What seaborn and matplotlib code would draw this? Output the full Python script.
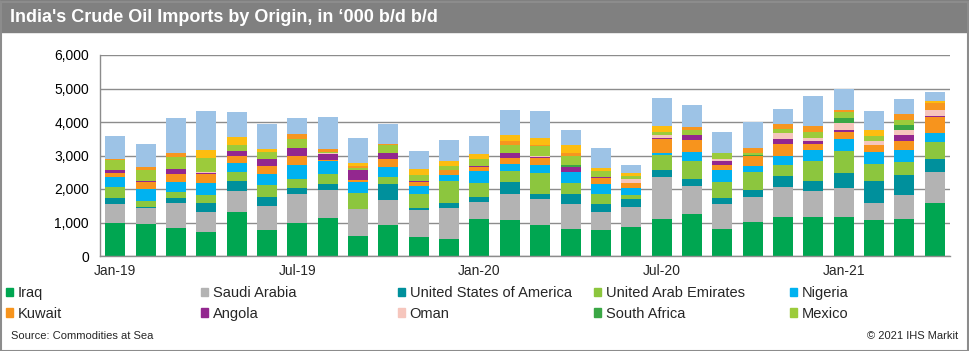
import numpy as np
import pandas as pd
import seaborn as sns
import matplotlib.pyplot as plt
from matplotlib.patches import Rectangle
from matplotlib.ticker import FuncFormatter, FixedLocator

# monthly imports, '000 b/d, Jan-19 .. Apr-21
months = list(pd.date_range('2019-01-01', periods=28, freq='MS').strftime('%b-%y'))

iraq = [985, 945, 845, 725, 1310, 775, 985, 1120, 595, 925, 575, 495, 1090, 1060,
        925, 795, 765, 875, 1090, 1240, 795, 1015, 1170, 1160, 1160, 1070, 1110, 1570]
saudi = [555, 495, 725, 595, 625, 715, 880, 865, 795, 745, 795, 945, 530, 805,
         765, 765, 545, 585, 1265, 845, 765, 755, 895, 795, 875, 520, 705, 930]
usa = [200, 20, 150, 270, 310, 270, 170, 150, 10, 465, 70, 130, 140, 350,
       150, 280, 250, 230, 225, 200, 160, 215, 320, 280, 445, 645, 600, 410]
uae = [315, 180, 185, 220, 265, 345, 250, 300, 495, 230, 425, 665, 405, 335,
       625, 345, 280, 130, 430, 545, 495, 515, 345, 595, 650, 515, 395, 495]
nigeria = [310, 365, 310, 375, 270, 355, 445, 395, 300, 295, 220, 195, 365, 200,
           265, 315, 295, 195, 70, 280, 365, 200, 250, 320, 365, 350, 340, 270]
kuwait = [115, 210, 240, 250, 200, 240, 270, 50, 80, 250, 130, 130, 130, 180,
          200, 0, 200, 150, 425, 365, 130, 280, 365, 205, 200, 205, 275, 465]
angola = [80, 30, 155, 45, 140, 210, 225, 150, 285, 150, 20, 20, 20, 130,
          20, 150, 30, 0, 30, 150, 120, 0, 150, 90, 80, 0, 180, 50]
oman = [0, 0, 0, 30, 0, 0, 0, 50, 0, 0, 0, 0, 0, 0,
        30, 0, 0, 120, 90, 0, 80, 0, 180, 80, 195, 120, 150, 180]
south_africa = [0, 0, 0, 0, 0, 0, 0, 0, 0, 0, 0, 0, 0, 0,
                0, 80, 0, 0, 0, 0, 0, 30, 0, 0, 150, 0, 145, 0]
mexico = [300, 335, 350, 420, 205, 190, 280, 20, 80, 240, 195, 120, 230, 240,
          290, 270, 165, 100, 70, 150, 170, 50, 130, 170, 170, 150, 170, 0]
# series above Mexico whose legend entries are cut off in the original
other_orange = [50, 70, 120, 0, 0, 0, 150, 80, 50, 45, 0, 0, 0, 125,
                40, 80, 0, 0, 0, 80, 0, 150, 135, 195, 80, 0, 180, 195]
other_gold = [0, 0, 0, 220, 220, 80, 0, 0, 80, 0, 180, 130, 120, 200,
              200, 220, 100, 80, 195, 0, 0, 0, 0, 0, 0, 180, 0, 50]
other_blue = [685, 705, 1040, 1170, 745, 770, 465, 970, 755, 605, 510, 645, 545, 745,
              815, 475, 600, 265, 825, 645, 635, 790, 460, 895, 615, 585, 450, 270]

series = {
    'Iraq': (iraq, '#00a651'),
    'Saudi Arabia': (saudi, '#b3b3b3'),
    'United States of America': (usa, '#00909c'),
    'United Arab Emirates': (uae, '#8cc63e'),
    'Nigeria': (nigeria, '#00b2f0'),
    'Kuwait': (kuwait, '#f7941d'),
    'Angola': (angola, '#93278f'),
    'Oman': (oman, '#f6c6bd'),
    'South Africa': (south_africa, '#3aa745'),
    'Mexico': (mexico, '#9ccb3b'),
    'other_orange': (other_orange, '#f7961f'),
    'other_gold': (other_gold, '#fdbd10'),
    'other_blue': (other_blue, '#9dc3e6'),
}
legend_names = list(series.keys())[:10]

rows = []
for name, (vals, _) in series.items():
    for i, v in enumerate(vals):
        rows.append({'month': i, 'origin': name, 'value': v})
df = pd.DataFrame(rows)
palette = {k: c for k, (_, c) in series.items()}

sns.set_style('white')
plt.rcParams['font.family'] = ['Liberation Sans', 'DejaVu Sans']

fig = plt.figure(figsize=(9.7, 3.51), dpi=100)
ax = fig.add_axes([100/970, 95/351, 850/970, 201/351])

# seaborn stacks the first hue level on top, so pass the order reversed
sns.histplot(data=df, x='month', weights='value', hue='origin',
             hue_order=list(series.keys())[::-1], palette=palette,
             multiple='stack', discrete=True, shrink=0.66,
             alpha=1, linewidth=0, legend=False, ax=ax)

ax.set_xlim(-0.5, len(months) - 0.5)
ax.set_ylim(0, 6000)
ax.set_yticks(np.arange(0, 6001, 1000))
ax.yaxis.set_major_formatter(FuncFormatter(lambda v, p: f'{int(v):,}'))
ax.yaxis.grid(True, color='#8c8c8c', linewidth=1)
ax.set_axisbelow(True)
ax.tick_params(axis='y', length=0, labelsize=10, colors='#000000', pad=8)

# tick marks at category boundaries, labels under every 6th month
ax.xaxis.set_major_locator(FixedLocator(np.arange(-0.5, len(months) - 1, 6)))
ax.xaxis.set_major_formatter(FuncFormatter(lambda v, p: ''))
ax.xaxis.set_minor_locator(FixedLocator(np.arange(0, len(months), 6)))
ax.set_xticklabels([months[i] for i in range(0, len(months), 6)], minor=True)
ax.tick_params(axis='x', which='major', length=4, width=1, color='#8c8c8c', direction='out')
ax.tick_params(axis='x', which='minor', length=0, labelsize=10, pad=6)
ax.set_xlabel('')
ax.set_ylabel('')

for s in ['top', 'right']:
    ax.spines[s].set_visible(False)
for s in ['left', 'bottom']:
    ax.spines[s].set_color('#8c8c8c')
    ax.spines[s].set_linewidth(1)

# title band and frame
fig.patches.append(Rectangle((0, 1 - 32/351), 1, 32/351, transform=fig.transFigure,
                             color='#808080', zorder=0))
fig.patches.append(Rectangle((0.5/970, 0.5/351), 968/970, 349/351, transform=fig.transFigure,
                             fill=False, edgecolor='#8c8c8c', linewidth=1.5, zorder=1))
fig.text(10/970, 1 - 17/351, "India's Crude Oil Imports by Origin, in \u2018000 b/d b/d",
         color='white', fontsize=13, fontweight='bold', va='center', ha='left')

# legend: 5 columns x 2 rows
col_x = [6, 201, 398, 594, 790]
for c in range(5):
    names = [legend_names[c], legend_names[c + 5]]
    handles = [Rectangle((0, 0), 1, 1, color=palette[n]) for n in names]
    fig.legend(handles, names, loc='upper left',
               bbox_to_anchor=(col_x[c]/970, 1 - 286/351),
               frameon=False, fontsize=10.5, handlelength=0.5, handleheight=0.5,
               handletextpad=0.3, labelspacing=0.45, borderpad=0, borderaxespad=0)

fig.text(11/970, 1 - 336/351, 'Source: Commodities at Sea', fontsize=8, va='center')
fig.text(958/970, 1 - 336/351, '\u00a9 2021 IHS Markit', fontsize=8, va='center', ha='right')

fig.savefig('out.png', dpi=100)
